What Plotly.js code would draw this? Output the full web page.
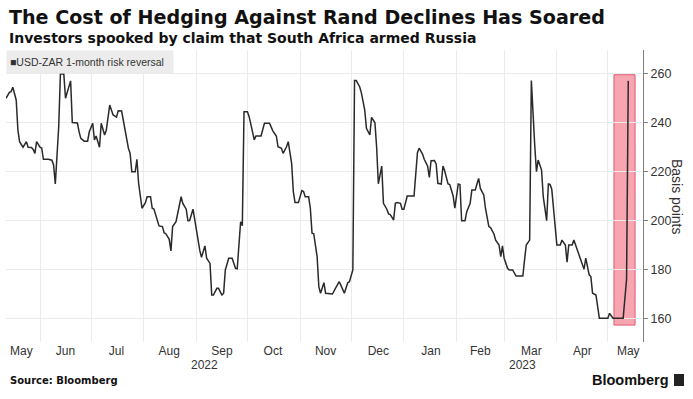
<!DOCTYPE html>
<html><head><meta charset="utf-8">
<script src="https://cdn.plot.ly/plotly-3.0.1.min.js"></script>
<style>html,body{margin:0;padding:0;background:#fff}#chart{width:693px;height:399px}</style>
</head><body><div id="chart"></div>
<script>
const dates = [
"2022-05-12","2022-05-14","2022-05-15","2022-05-16","2022-05-18","2022-05-19","2022-05-20","2022-05-22","2022-05-24","2022-05-25",
"2022-05-27","2022-05-28","2022-05-29","2022-05-30","2022-06-01","2022-06-02","2022-06-03","2022-06-06","2022-06-08","2022-06-09",
"2022-06-10","2022-06-12","2022-06-13","2022-06-15","2022-06-16","2022-06-18","2022-06-19","2022-06-20","2022-06-23","2022-06-24",
"2022-06-25","2022-06-27","2022-06-29","2022-06-30","2022-07-02","2022-07-03","2022-07-04","2022-07-06","2022-07-07","2022-07-09",
"2022-07-10","2022-07-12","2022-07-14","2022-07-16","2022-07-17","2022-07-19","2022-07-20","2022-07-22","2022-07-23","2022-07-24",
"2022-07-25","2022-07-27","2022-07-28","2022-07-29","2022-07-31","2022-08-02","2022-08-03","2022-08-05","2022-08-06","2022-08-07",
"2022-08-09","2022-08-10","2022-08-12","2022-08-13","2022-08-14","2022-08-16","2022-08-17","2022-08-18","2022-08-20","2022-08-21",
"2022-08-23","2022-08-24","2022-08-26","2022-08-27","2022-08-28","2022-08-30","2022-08-31","2022-09-01","2022-09-03","2022-09-04",
"2022-09-06","2022-09-07","2022-09-09","2022-09-10","2022-09-11","2022-09-13","2022-09-14","2022-09-16","2022-09-17","2022-09-18",
"2022-09-20","2022-09-22","2022-09-24","2022-09-25","2022-09-27","2022-09-28","2022-09-29","2022-10-01","2022-10-02","2022-10-04",
"2022-10-05","2022-10-06","2022-10-09","2022-10-11","2022-10-14","2022-10-16","2022-10-18","2022-10-19","2022-10-21","2022-10-22",
"2022-10-24","2022-10-25","2022-10-27","2022-10-28","2022-10-29","2022-10-31","2022-11-02","2022-11-03","2022-11-04","2022-11-06",
"2022-11-07","2022-11-08","2022-11-09","2022-11-11","2022-11-12","2022-11-13","2022-11-15","2022-11-16","2022-11-20","2022-11-22",
"2022-11-24","2022-11-25","2022-11-27","2022-11-29","2022-11-30","2022-12-02","2022-12-03","2022-12-04","2022-12-06","2022-12-07",
"2022-12-09","2022-12-10","2022-12-12","2022-12-13","2022-12-15","2022-12-16","2022-12-17","2022-12-19","2022-12-20","2022-12-22",
"2022-12-23","2022-12-24","2022-12-26","2022-12-27","2022-12-28","2022-12-30","2022-12-31","2023-01-01","2023-01-03","2023-01-07",
"2023-01-09","2023-01-10","2023-01-12","2023-01-13","2023-01-15","2023-01-16","2023-01-17","2023-01-19","2023-01-20","2023-01-21",
"2023-01-23","2023-01-24","2023-01-25","2023-01-27","2023-01-28","2023-01-30","2023-01-31","2023-02-02","2023-02-03","2023-02-04",
"2023-02-06","2023-02-07","2023-02-09","2023-02-10","2023-02-12","2023-02-13","2023-02-14","2023-02-15","2023-02-17","2023-02-18",
"2023-02-20","2023-02-21","2023-02-23","2023-02-24","2023-02-26","2023-02-27","2023-02-28","2023-03-01","2023-03-03","2023-03-04",
"2023-03-06","2023-03-08","2023-03-12","2023-03-13","2023-03-14","2023-03-16","2023-03-17","2023-03-19","2023-03-20","2023-03-21",
"2023-03-23","2023-03-24","2023-03-26","2023-03-27","2023-03-28","2023-03-29","2023-03-31","2023-04-01","2023-04-03","2023-04-04",
"2023-04-06","2023-04-07","2023-04-08","2023-04-10","2023-04-11","2023-04-13","2023-04-15","2023-04-17","2023-04-18","2023-04-20",
"2023-04-21","2023-04-22","2023-04-24","2023-04-25","2023-04-26","2023-04-29","2023-05-01","2023-05-02","2023-05-04","2023-05-06",
"2023-05-10","2023-05-12","2023-05-13"
];
const riskReversal = [
249.9,252.3,252.6,254.4,249.2,236.9,232.2,229.9,232.2,229.9,
229.8,229.0,227.4,232.2,229.9,229.6,225.0,225.0,224.6,222.7,
214.9,238.3,259.8,259.8,249.9,254.6,257.0,240.0,239.8,236.2,
233.5,232.4,232.4,236.2,239.7,232.9,234.5,229.9,239.7,234.9,
236.9,247.1,243.1,242.2,244.8,244.7,241.0,232.2,229.5,227.4,
219.9,219.9,225.0,215.2,205.0,207.3,209.7,209.7,205.0,204.7,
199.9,197.8,197.5,195.0,194.6,192.3,187.6,197.5,199.5,202.7,
209.7,207.0,204.6,199.9,200.0,204.6,200.2,194.8,187.7,185.0,
189.6,184.6,182.5,169.6,169.6,172.3,172.3,169.6,170.3,179.8,
184.6,184.6,180.5,180.3,199.5,197.9,244.4,244.4,242.4,236.2,
232.9,234.5,234.5,239.7,239.7,236.5,234.5,230.1,229.5,227.4,
230.1,232.2,223.3,211.8,207.3,207.3,212.2,211.8,209.7,209.7,
205.0,194.8,194.6,185.2,173.0,170.3,174.6,170.3,170.0,172.6,
175.0,173.5,170.3,174.6,175.0,179.8,257.1,257.1,254.6,252.2,
245.1,237.6,234.9,242.1,239.9,229.9,215.0,222.2,207.0,204.6,
202.7,202.4,200.2,207.0,207.3,207.0,204.6,204.6,210.0,210.0,
227.7,229.5,227.1,225.0,222.2,217.6,224.4,224.5,223.1,215.2,
214.9,222.2,220.3,214.9,214.7,210.0,205.0,214.9,214.7,199.9,
199.9,203.6,207.0,212.4,212.4,214.9,217.2,213.1,210.4,205.0,
197.5,197.1,194.5,192.0,190.0,185.2,189.6,184.6,180.5,179.8,
179.8,177.3,177.3,183.9,190.0,192.0,257.1,230.4,219.9,224.7,
220.6,209.7,199.9,214.9,214.7,212.8,199.0,190.0,190.0,192.0,
190.0,183.0,190.0,190.0,192.0,188.0,184.2,180.1,184.6,177.8,
177.1,170.3,169.6,164.2,160.1,160.1,160.1,162.1,160.1,160.1,
160.1,176.0,257.0
];
const monthStarts = ["2022-06-01","2022-07-01","2022-08-01","2022-09-01","2022-10-01","2022-11-01","2022-12-01","2023-01-01","2023-02-01","2023-03-01","2023-04-01","2023-05-01"];
const monthLabelDates = ["2022-05-21","2022-06-16","2022-07-16","2022-08-16","2022-09-16","2022-10-16","2022-11-16","2022-12-17","2023-01-17","2023-02-15","2023-03-17","2023-04-16","2023-05-13"];
const monthLabels = ["May","Jun","Jul","Aug","Sep","Oct","Nov","Dec","Jan","Feb","Mar","Apr","May"];
const yearLabelDates = ["2022-09-06","2023-03-12"];
const yearLabels = ["2022","2023"];
const yTicks = [160,180,200,220,240,260];
const xRange = ["2022-05-12","2023-05-21 16:00"];
const yRange = [150.4, 269.6];
const highlightX = ["2023-05-04 14:00","2023-05-17"];
const highlightY = [157.3, 259.5];

const FONT = "Liberation Sans, Arial, sans-serif";
const HFONT = "DejaVu Sans, Verdana, sans-serif";
const PW = 637, PH = 292, L = 6, T = 50;
const px = v => (v - L) / PW;
const py = v => (T + PH - v) / PH;

const traces = [
  {x: dates, y: riskReversal, type: "scatter", mode: "lines", line: {color: "#2a2a2a", width: 1.5}, showlegend: false, hoverinfo: "skip", xaxis: "x", yaxis: "y"},
  {x: [xRange[0]], y: [null], type: "scatter", mode: "lines", showlegend: false, hoverinfo: "skip", xaxis: "x2", yaxis: "y"}
];

const annotations = [
  {xref: "paper", yref: "paper", x: px(7), y: py(17.5), xanchor: "left", yanchor: "middle", showarrow: false,
   text: "<b>The Cost of Hedging Against Rand Declines Has Soared</b>", font: {family: HFONT, size: 19.1, color: "#111"}},
  {xref: "paper", yref: "paper", x: px(7), y: py(38), xanchor: "left", yanchor: "middle", showarrow: false,
   text: "<b>Investors spooked by claim that South Africa armed Russia</b>", font: {family: HFONT, size: 14, color: "#111"}},
  {xref: "paper", yref: "paper", x: 0, y: 1, xanchor: "left", yanchor: "top", showarrow: false, align: "left",
   width: 160, height: 16, borderpad: 3, bgcolor: "#ececec",
   text: "■USD-ZAR 1-month risk reversal", font: {family: FONT, size: 10.5, color: "#333"}},
  {xref: "paper", yref: "paper", x: px(677), y: py(197), xanchor: "center", yanchor: "middle", showarrow: false, textangle: 90,
   text: "Basis points", font: {family: FONT, size: 14, color: "#333"}},
  {xref: "paper", yref: "paper", x: px(8), y: py(380), xanchor: "left", yanchor: "middle", showarrow: false,
   text: "<b>Source: Bloomberg</b>", font: {family: HFONT, size: 10, color: "#111"}},
  {xref: "paper", yref: "paper", x: px(671), y: py(380), xanchor: "right", yanchor: "middle", showarrow: false,
   text: "<b>Bloomberg</b>", font: {family: FONT, size: 14.5, color: "#111"}}
];
yearLabels.forEach((t, i) => annotations.push({xref: "x", yref: "paper", x: yearLabelDates[i], y: py(365), xanchor: "center", yanchor: "middle",
  showarrow: false, text: t, font: {family: FONT, size: 12, color: "#333"}}));

const shapes = [
  {type: "rect", xref: "x", yref: "y", x0: highlightX[0], x1: highlightX[1], y0: highlightY[0], y1: highlightY[1],
   fillcolor: "#f6a5b1", line: {color: "#df5a70", width: 1}, layer: "below"},
  {type: "rect", xref: "paper", yref: "paper", x0: px(674), x1: px(684), y0: py(386), y1: py(374),
   fillcolor: "#222", line: {width: 0}}
];

const layout = {
  width: 693, height: 399,
  margin: {l: L, r: 693 - L - PW, t: T, b: 399 - T - PH},
  paper_bgcolor: "#fff", plot_bgcolor: "#fff",
  showlegend: false,
  font: {family: FONT, color: "#333"},
  xaxis: {type: "date", range: xRange, tickvals: monthStarts, showticklabels: false, ticks: "",
          showgrid: true, gridcolor: "#ebebeb", gridwidth: 1, zeroline: false, showline: false, fixedrange: true},
  xaxis2: {type: "date", overlaying: "x", anchor: "y", side: "bottom", range: xRange, tickvals: monthLabelDates, ticktext: monthLabels,
           showgrid: false, ticks: "", zeroline: false, showline: false, tickfont: {family: FONT, size: 12, color: "#333"}},
  yaxis: {side: "right", range: yRange, tickvals: yTicks, showgrid: true, gridcolor: "#ebebeb", gridwidth: 1,
          showline: true, linecolor: "#808080", linewidth: 1, ticks: "outside", ticklen: 4, tickcolor: "#808080",
          zeroline: false, tickfont: {family: FONT, size: 12.5, color: "#333"}},
  annotations: annotations,
  shapes: shapes
};

Plotly.newPlot("chart", traces, layout, {displayModeBar: false, staticPlot: true});
</script></body></html>
